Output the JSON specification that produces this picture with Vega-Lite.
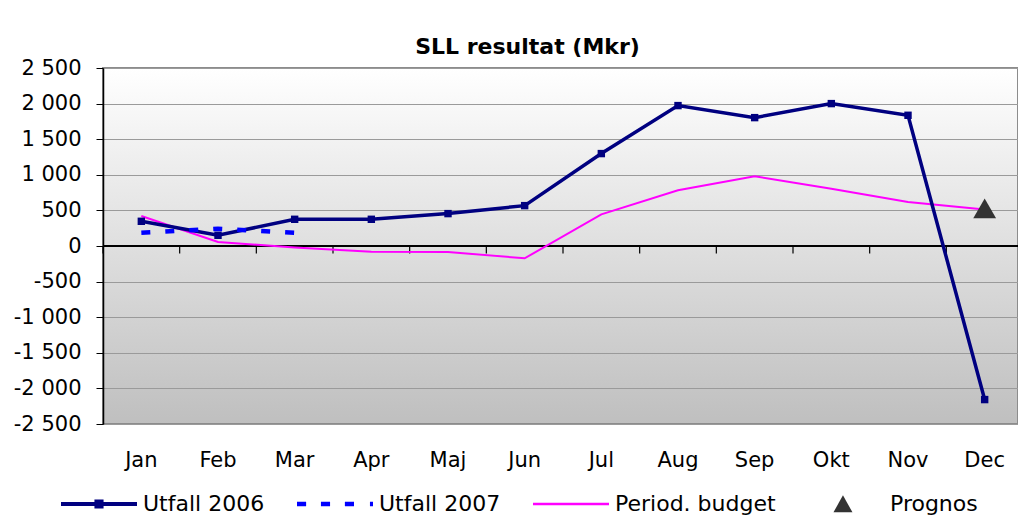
{
  "$schema": "https://vega.github.io/schema/vega-lite/v6.json",
  "width": 915,
  "height": 356,
  "autosize": {"type": "none"},
  "padding": {"left": 103, "top": 68, "right": 0, "bottom": 100},
  "background": "white",
  "title": {"text": "SLL resultat (Mkr)", "font": "DejaVu Sans", "fontSize": 22, "fontWeight": "bold", "color": "black", "anchor": "middle", "frame": "group", "dx": -33, "dy": 24, "offset": 5, "baseline": "alphabetic"},
  "config": {
    "view": {
      "fill": {"gradient": "linear", "x1": 0, "y1": 0, "x2": 0, "y2": 1, "stops": [{"offset": 0, "color": "#ffffff"}, {"offset": 1, "color": "#bfbfbf"}]},
      "stroke": "#8c8c8c",
      "strokeWidth": 2
    },
    "legend": {
      "orient": "none",
      "direction": "horizontal",
      "legendX": -42,
      "legendY": 398,
      "padding": 0,
      "symbolSize": 5776,
      "symbolStrokeWidth": 0,
      "symbolOpacity": 1,
      "labelFont": "DejaVu Sans",
      "labelFontSize": 22,
      "labelColor": "black",
      "labelOffset": 6,
      "labelLimit": 400,
      "columnPadding": 32
    }
  },
  "data": {"values": [
    {"month": "Jan", "series": "Utfall 2006", "value": 347},
    {"month": "Feb", "series": "Utfall 2006", "value": 150},
    {"month": "Mar", "series": "Utfall 2006", "value": 375},
    {"month": "Apr", "series": "Utfall 2006", "value": 375},
    {"month": "Maj", "series": "Utfall 2006", "value": 455},
    {"month": "Jun", "series": "Utfall 2006", "value": 567},
    {"month": "Jul", "series": "Utfall 2006", "value": 1298},
    {"month": "Aug", "series": "Utfall 2006", "value": 1972},
    {"month": "Sep", "series": "Utfall 2006", "value": 1803},
    {"month": "Okt", "series": "Utfall 2006", "value": 2000},
    {"month": "Nov", "series": "Utfall 2006", "value": 1836},
    {"month": "Dec", "series": "Utfall 2006", "value": -2157},
    {"month": "Jan", "series": "Utfall 2007", "value": 185},
    {"month": "Feb", "series": "Utfall 2007", "value": 242},
    {"month": "Mar", "series": "Utfall 2007", "value": 185},
    {"month": "Jan", "series": "Period. budget", "value": 421},
    {"month": "Feb", "series": "Period. budget", "value": 56},
    {"month": "Mar", "series": "Period. budget", "value": -20},
    {"month": "Apr", "series": "Period. budget", "value": -80},
    {"month": "Maj", "series": "Period. budget", "value": -84},
    {"month": "Jun", "series": "Period. budget", "value": -173},
    {"month": "Jul", "series": "Period. budget", "value": 445},
    {"month": "Aug", "series": "Period. budget", "value": 782},
    {"month": "Sep", "series": "Period. budget", "value": 979},
    {"month": "Okt", "series": "Period. budget", "value": 805},
    {"month": "Nov", "series": "Period. budget", "value": 618},
    {"month": "Dec", "series": "Period. budget", "value": 511},
    {"month": "Dec", "series": "Prognos", "value": 530}
  ]},
  "encoding": {
    "x": {
      "field": "month", "type": "ordinal",
      "scale": {"type": "band", "domain": ["Jan", "Feb", "Mar", "Apr", "Maj", "Jun", "Jul", "Aug", "Sep", "Okt", "Nov", "Dec"], "range": [0, 920], "paddingInner": 0, "paddingOuter": 0},
      "axis": {"title": null, "ticks": false, "domain": false, "grid": false, "labelAngle": 0, "labelPadding": 25, "labelFont": "DejaVu Sans", "labelFontSize": 21, "labelColor": "black"}
    },
    "y": {
      "field": "value", "type": "quantitative",
      "scale": {"domain": [-2500, 2500], "nice": false, "zero": false},
      "axis": {"title": null, "values": [-2500, -2000, -1500, -1000, -500, 0, 500, 1000, 1500, 2000, 2500],
        "labelExpr": "(datum.value < 0 ? '-' : '') + replace(format(abs(datum.value), ','), ',', ' ')",
        "grid": true, "gridColor": "#9a9a9a", "gridWidth": 1,
        "domainColor": "black", "domainWidth": 1.5, "tickColor": "black", "tickSize": 7, "tickWidth": 1,
        "labelPadding": 15, "labelFont": "DejaVu Sans", "labelFontSize": 21, "labelColor": "black"}
    }
  },
  "layer": [
    {
      "mark": {"type": "rule", "color": "black", "strokeWidth": 1.5},
      "encoding": {"x": null, "y": {"datum": 0}}
    },
    {
      "transform": [{"filter": "datum.series === 'Utfall 2006'"}],
      "mark": {"type": "rule", "color": "black", "strokeWidth": 1.2},
      "encoding": {"x": {"field": "month", "type": "ordinal", "bandPosition": 0}, "y": {"datum": 0}, "y2": {"datum": -105}}
    },
    {
      "transform": [{"filter": "datum.series === 'Period. budget'"}],
      "mark": {"type": "line", "color": "#ff00ff", "strokeWidth": 2}
    },
    {
      "transform": [{"filter": "datum.series === 'Utfall 2006'"}],
      "mark": {"type": "line", "color": "#000080", "strokeWidth": 3.5, "point": {"shape": "square", "filled": true, "size": 55, "color": "#000080", "opacity": 1}}
    },
    {
      "transform": [{"filter": "datum.series === 'Utfall 2007'"}],
      "mark": {"type": "line", "color": "#0000ff", "strokeWidth": 4.5, "strokeDash": [9, 15], "strokeCap": "butt"}
    },
    {
      "transform": [{"filter": "datum.series === 'Prognos'"}],
      "mark": {"type": "point", "shape": "triangle-up", "filled": true, "size": 520, "color": "#333333", "opacity": 1}
    },
    {
      "mark": {"type": "point", "filled": true, "size": 0, "opacity": 1},
      "encoding": {
        "color": {"field": "series", "type": "nominal",
          "scale": {"domain": ["Utfall 2006", "Utfall 2007", "Period. budget", "Prognos"], "range": ["#000080", "#0000ff", "#ff00ff", "#333333"]},
          "legend": {"title": null}},
        "shape": {"field": "series", "type": "nominal",
          "scale": {"domain": ["Utfall 2006", "Utfall 2007", "Period. budget", "Prognos"], "range": [
            "M-1,-0.055H1V0.055H-1Z M-0.12,-0.12H0.12V0.12H-0.12Z",
            "M-1,-0.06H-0.76V0.06H-1Z M-0.37,-0.06H-0.13V0.06H-0.37Z M0.26,-0.06H0.5V0.06H0.26Z M0.92,-0.06H1V0.06H0.92Z",
            "M-1,-0.033H1V0.033H-1Z",
            "M-0.08,-0.23L0.17,0.22L-0.33,0.22Z"]},
          "legend": {"title": null}}
      }
    }
  ]
}
